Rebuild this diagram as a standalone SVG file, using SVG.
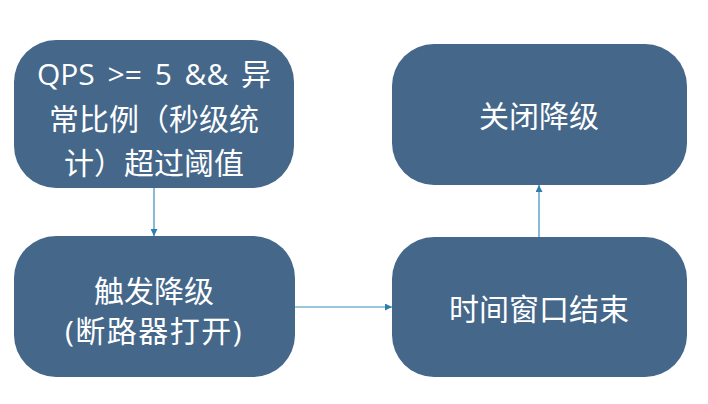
<svg xmlns="http://www.w3.org/2000/svg" width="708" height="404" viewBox="0 0 708 404">
<style>
.box{fill:#44678a;}
.t{fill:#ffffff;font-family:"Open Sans","Noto Sans CJK SC",sans-serif;font-size:30px;text-anchor:middle;dominant-baseline:central;}
.c{stroke:#3a8dba;stroke-width:1.2;fill:none;marker-end:url(#ah);}
</style>
<defs>
<marker id="ah" viewBox="0 0 10 10" refX="10" refY="5" markerWidth="7" markerHeight="7" markerUnits="userSpaceOnUse" orient="auto">
<path d="M0,0 L10,5 L0,10 z" fill="#2e7fae"/>
</marker>
</defs>
<rect width="708" height="404" fill="#ffffff"/>
<g id="n1">
<rect class="box" x="14" y="40" width="280" height="148" rx="42"/>
<text class="t" x="154" y="73" style="word-spacing:5px">QPS &gt;= 5 &amp;&amp; 异</text>
<text class="t" x="154" y="118">常比例（秒级统</text>
<text class="t" x="154" y="162">计）超过阈值</text>
</g>
<g id="n2">
<rect class="box" x="14" y="236" width="281" height="141" rx="42"/>
<text class="t" x="154" y="290">触发降级</text>
<text class="t" x="154" y="330" style="letter-spacing:1.5px">(断路器打开)</text>
</g>
<g id="n3">
<rect class="box" x="392" y="44" width="295" height="141" rx="42"/>
<text class="t" x="539" y="115">关闭降级</text>
</g>
<g id="n4">
<rect class="box" x="392" y="237" width="295" height="140" rx="42"/>
<text class="t" x="539" y="308">时间窗口结束</text>
</g>
<g id="connectors">
<path class="c" d="M154,188 L154,236"/>
<path class="c" d="M295,307 L392,307"/>
<path class="c" d="M539,237 L539,185"/>
</g>
</svg>
